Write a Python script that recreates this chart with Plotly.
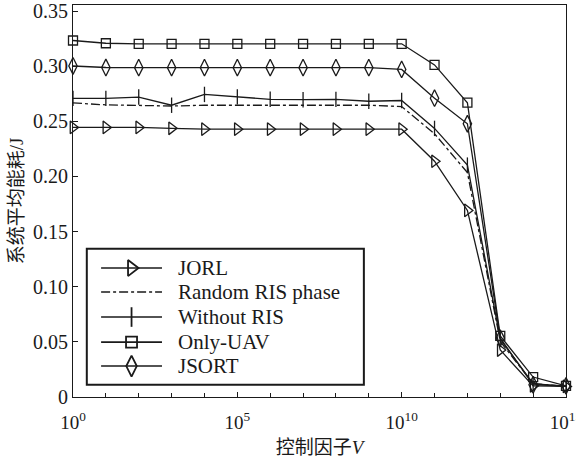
import plotly.graph_objects as go

# Control factor V, as powers of ten
exponents = list(range(0, 16))
v_values = [10 ** e for e in exponents]

series_names = ["JORL", "Random RIS phase", "Without RIS", "Only-UAV", "JSORT"]

jorl = [0.2445, 0.2445, 0.2445, 0.2437, 0.2429, 0.2429, 0.2429, 0.2429,
        0.2429, 0.2429, 0.2429, 0.2138, 0.1692, 0.0426, 0.0101, 0.0096]
random_phase = [0.2667, 0.2649, 0.2644, 0.2639, 0.2646, 0.2646, 0.2646, 0.2646,
                0.2646, 0.2646, 0.2634, 0.2387, 0.2035, 0.0504, 0.0121, 0.0096]
without_ris = [0.2708, 0.2708, 0.2720, 0.2646, 0.2744, 0.2722, 0.2700, 0.2696,
               0.2699, 0.2682, 0.2689, 0.2436, 0.2103, 0.0524, 0.0121, 0.0096]
only_uav = [0.3233, 0.3208, 0.3203, 0.3203, 0.3203, 0.3203, 0.3203, 0.3203,
            0.3203, 0.3203, 0.3203, 0.3012, 0.2669, 0.0554, 0.0181, 0.0101]
jsort = [0.3002, 0.2988, 0.2987, 0.2987, 0.2987, 0.2987, 0.2987, 0.2987,
         0.2987, 0.2987, 0.2971, 0.2710, 0.2478, 0.0534, 0.0111, 0.0101]

x_tick_vals = [1, 1e5, 1e10, 1e15]
x_tick_text = ["10<sup>0</sup>", "10<sup>5</sup>", "10<sup>10</sup>", "10<sup>15</sup>"]
y_tick_vals = [0, 0.05, 0.10, 0.15, 0.20, 0.25, 0.30, 0.35]
y_tick_text = ["0", "0.05", "0.10", "0.15", "0.20", "0.25", "0.30", "0.35"]

serif = "Liberation Serif, Times New Roman, Noto Sans CJK SC, serif"
black = "#1a1a1a"

styles = [
    dict(data=jorl, symbol="triangle-right-open", size=11, legend_size=14, dash="solid"),
    dict(data=random_phase, symbol=None, size=0, legend_size=0, dash="dashdot"),
    dict(data=without_ris, symbol="line-ns-open", size=11, legend_size=14, dash="solid"),
    dict(data=only_uav, symbol="square-open", size=9, legend_size=11, dash="solid"),
    dict(data=jsort, symbol="diamond-tall-open", size=12, legend_size=15, dash="solid"),
]

fig = go.Figure()
for name, st in zip(series_names, styles):
    mode = "lines" if st["symbol"] is None else "lines+markers"
    marker = dict(color=black, size=st["size"], line=dict(color=black, width=1.3))
    if st["symbol"] is not None:
        marker["symbol"] = st["symbol"]
    fig.add_trace(go.Scatter(
        x=v_values, y=st["data"], name=name, mode=mode, cliponaxis=False,
        line=dict(color=black, width=1.3, dash=st["dash"]),
        marker=marker, showlegend=False,
    ))

# Boxed key drawn on an overlay axis spanning the plot area (0..1 in both directions)
key_box = dict(x0=0.028, x1=0.590, y0=0.031, y1=0.378)
key_rows = [0.329, 0.268, 0.204, 0.140, 0.079]
key_line = (0.057, 0.1805)
key_text_x = 0.209

fig.add_shape(type="rect", xref="paper", yref="paper", layer="below",
              x0=key_box["x0"], x1=key_box["x1"], y0=key_box["y0"], y1=key_box["y1"],
              line=dict(color=black, width=2), fillcolor="white")

for name, st, ky in zip(series_names, styles, key_rows):
    fig.add_trace(go.Scatter(
        x=[key_line[0], key_line[1]], y=[ky, ky], mode="lines",
        xaxis="x2", yaxis="y2", showlegend=False, hoverinfo="skip",
        line=dict(color=black, width=1.6, dash=st["dash"]),
    ))
    if st["symbol"] is not None:
        fig.add_trace(go.Scatter(
            x=[(key_line[0] + key_line[1]) / 2], y=[ky], mode="markers",
            xaxis="x2", yaxis="y2", showlegend=False, hoverinfo="skip",
            marker=dict(symbol=st["symbol"], size=st["legend_size"], color=black,
                        line=dict(color=black, width=1.8)),
        ))
    fig.add_annotation(x=key_text_x, y=ky, xref="paper", yref="paper",
                       text=name, showarrow=False, xanchor="left", yanchor="middle",
                       font=dict(family=serif, size=21, color=black))

axis_common = dict(
    showline=True, linecolor=black, linewidth=1.2, mirror=True,
    ticks="inside", ticklen=5, tickcolor=black, tickwidth=1,
    showgrid=False, zeroline=False, ticklabeloverflow="allow", automargin=False,
)

fig.update_layout(
    width=576, height=463,
    margin=dict(l=73, r=10, t=5, b=66),
    paper_bgcolor="white", plot_bgcolor="white",
    font=dict(family=serif, color=black),
    showlegend=False,
    xaxis=dict(
        type="log", range=[0, 15.0001],
        tickvals=x_tick_vals, ticktext=x_tick_text,
        tickfont=dict(family=serif, size=19, color=black),
        ticklabelstandoff=8,
        minor=dict(tickvals=[10 ** e for e in exponents], ticks="inside",
                   ticklen=4, tickcolor=black),
        title=dict(text="控制因子<i>V</i>", font=dict(family=serif, size=19, color=black),
                   standoff=8),
        **axis_common,
    ),
    yaxis=dict(
        range=[0, 0.3555],
        tickvals=y_tick_vals, ticktext=y_tick_text,
        tickfont=dict(family=serif, size=20, color=black),
        title=dict(text="系统平均能耗/J", font=dict(family=serif, size=19, color=black),
                   standoff=4),
        **axis_common,
    ),
    xaxis2=dict(overlaying="x", range=[0, 1], visible=False, fixedrange=True),
    yaxis2=dict(overlaying="y", range=[0, 1], visible=False, fixedrange=True),
)

fig.write_html("out.html")
